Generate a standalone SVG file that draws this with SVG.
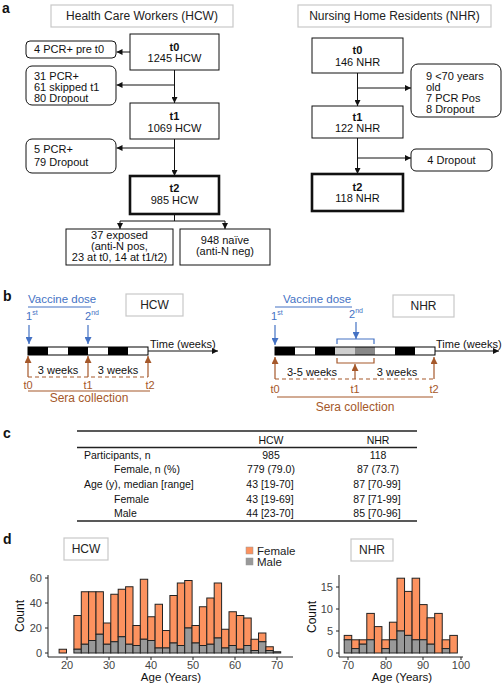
<svg xmlns="http://www.w3.org/2000/svg" width="502" height="685" viewBox="0 0 502 685">
<style>
text{font-family:"Liberation Sans",Arial,sans-serif;fill:#111}
.lbl{font-size:14px;font-weight:bold}
.t{font-size:11px}
.tc{font-size:11px;text-anchor:middle}
.b{font-weight:bold}
.box{fill:#fff;stroke:#111;stroke-width:1}
.thick{fill:#fff;stroke:#111;stroke-width:2.6}
.rbox{fill:#fff;stroke:#111;stroke-width:1}
.tbox{fill:#fff;stroke:#c8c8c8;stroke-width:1.2}
.ttl{font-size:12px;text-anchor:middle;fill:#222}
.ln{stroke:#111;stroke-width:1;fill:none}
.bl{stroke:#4472c4;stroke-width:1.2;fill:none}
.br{stroke:#a5582a;stroke-width:1.2;fill:none}
.fe{fill:#fc925f;stroke:#222;stroke-width:1}
.ma{fill:#999;stroke:#222;stroke-width:1}
.ax{stroke:#222;stroke-width:1;fill:none}
.tk{font-size:11px;fill:#444}
.tbl{font-size:10.5px}
.axt{font-size:11.5px;text-anchor:middle;fill:#111}
</style>
<defs>
<marker id="ah" viewBox="0 0 10 10" refX="10" refY="5" markerWidth="6" markerHeight="6" markerUnits="userSpaceOnUse" orient="auto"><path d="M0,0 L10,5 L0,10 z" fill="#111"/></marker>
<marker id="ahb" viewBox="0 0 10 10" refX="10" refY="5" markerWidth="7" markerHeight="7" markerUnits="userSpaceOnUse" orient="auto"><path d="M0,0 L10,5 L0,10 z" fill="#4472c4"/></marker>
<marker id="ahr" viewBox="0 0 10 10" refX="10" refY="5" markerWidth="7" markerHeight="7" markerUnits="userSpaceOnUse" orient="auto"><path d="M0,0 L10,5 L0,10 z" fill="#a5582a"/></marker>
</defs>

<!-- Panel a -->
<text class="lbl" x="2" y="13">a</text>
<g id="hcw-title"><rect class="tbox" x="51" y="5" width="182" height="22"/><text class="ttl" x="142" y="20">Health Care Workers (HCW)</text></g>
<g id="nhr-title"><rect class="tbox" x="298" y="5" width="193" height="22"/><text class="ttl" x="394.5" y="20">Nursing Home Residents (NHR)</text></g>

<g id="connectors-a">
<line class="ln" x1="130" y1="52" x2="116.5" y2="52" marker-end="url(#ah)"/>
<line class="ln" x1="174.5" y1="70" x2="174.5" y2="103" marker-end="url(#ah)"/>
<line class="ln" x1="174.5" y1="85" x2="116.5" y2="85" marker-end="url(#ah)"/>
<line class="ln" x1="174.5" y1="139" x2="174.5" y2="176" marker-end="url(#ah)"/>
<line class="ln" x1="174.5" y1="148" x2="116.5" y2="148" marker-end="url(#ah)"/>
<polyline class="ln" points="174.5,214 174.5,221"/>
<line class="ln" x1="120" y1="221" x2="225" y2="221"/>
<line class="ln" x1="120" y1="221" x2="120" y2="229" marker-end="url(#ah)"/>
<line class="ln" x1="225" y1="221" x2="225" y2="229" marker-end="url(#ah)"/>
<line class="ln" x1="357.5" y1="73" x2="357.5" y2="106" marker-end="url(#ah)"/>
<line class="ln" x1="357.5" y1="88" x2="411" y2="88" marker-end="url(#ah)"/>
<line class="ln" x1="357.5" y1="138" x2="357.5" y2="174" marker-end="url(#ah)"/>
<line class="ln" x1="357.5" y1="158" x2="411" y2="158" marker-end="url(#ah)"/>
</g>

<g id="hcw-t0"><rect class="box" x="130" y="34" width="89" height="36"/><text class="tc b" x="174.5" y="51">t0</text><text class="tc" x="174.5" y="62">1245 HCW</text></g>
<g id="hcw-pre"><rect class="rbox" x="26" y="41" width="90" height="17" rx="4"/><text class="t" x="34" y="53">4 PCR+ pre t0</text></g>
<g id="hcw-drop1"><rect class="rbox" x="26" y="66" width="90" height="39" rx="6"/><text class="t" x="34" y="80">31 PCR+</text><text class="t" x="34" y="91">61 skipped t1</text><text class="t" x="34" y="102">80 Dropout</text></g>
<g id="hcw-t1"><rect class="box" x="130" y="103" width="89" height="36"/><text class="tc b" x="174.5" y="120">t1</text><text class="tc" x="174.5" y="132">1069 HCW</text></g>
<g id="hcw-drop2"><rect class="rbox" x="26" y="139" width="90" height="34" rx="6"/><text class="t" x="34" y="153">5 PCR+</text><text class="t" x="34" y="166">79 Dropout</text></g>
<g id="hcw-t2"><rect class="thick" x="130" y="176" width="89" height="38"/><text class="tc b" x="174.5" y="192">t2</text><text class="tc" x="174.5" y="204">985 HCW</text></g>
<g id="hcw-exposed"><rect class="box" x="66" y="229" width="107" height="36"/><text class="tc" x="119.5" y="239">37 exposed</text><text class="tc" x="119.5" y="250">(anti-N pos,</text><text class="tc" x="119.5" y="261">23 at t0, 14 at t1/t2)</text></g>
<g id="hcw-naive"><rect class="box" x="180" y="229" width="90" height="36"/><text class="tc" x="225" y="244">948 naïve</text><text class="tc" x="225" y="255">(anti-N neg)</text></g>

<g id="nhr-t0"><rect class="box" x="312" y="38" width="91" height="35"/><text class="tc b" x="357.5" y="54">t0</text><text class="tc" x="357.5" y="66">146 NHR</text></g>
<g id="nhr-drop1"><rect class="rbox" x="411" y="64" width="90" height="53" rx="7"/><text class="t" x="426" y="80">9 &lt;70 years</text><text class="t" x="426" y="91">old</text><text class="t" x="426" y="102">7 PCR Pos</text><text class="t" x="426" y="113">8 Dropout</text></g>
<g id="nhr-t1"><rect class="box" x="312" y="106" width="91" height="32"/><text class="tc b" x="357.5" y="121">t1</text><text class="tc" x="357.5" y="132">122 NHR</text></g>
<g id="nhr-drop2"><rect class="rbox" x="411" y="149" width="81" height="22" rx="5"/><text class="tc" x="451.5" y="164">4 Dropout</text></g>
<g id="nhr-t2"><rect class="thick" x="312" y="174" width="91" height="37"/><text class="tc b" x="357.5" y="191">t2</text><text class="tc" x="357.5" y="202">118 NHR</text></g>

<!-- Panel b -->
<text class="lbl" x="3" y="301">b</text>
<g id="hcw-timeline">
<text x="28" y="303" style="font-size:11.5px;fill:#4472c4">Vaccine dose</text>
<line class="bl" x1="28" y1="307" x2="91" y2="307"/>
<text x="26" y="320" style="font-size:11px;fill:#4472c4">1<tspan dy="-5" style="font-size:7px">st</tspan></text>
<text x="85" y="320" style="font-size:11px;fill:#4472c4">2<tspan dy="-5" style="font-size:7px">nd</tspan></text>
<line class="bl" x1="29" y1="325" x2="29" y2="344" marker-end="url(#ahb)"/>
<line class="bl" x1="88" y1="325" x2="88" y2="344" marker-end="url(#ahb)"/>
<rect x="28" y="347" width="20" height="8" fill="#000"/>
<rect x="48" y="347" width="20" height="8" fill="#fff"/>
<rect x="68" y="347" width="20" height="8" fill="#000"/>
<rect x="88" y="347" width="20" height="8" fill="#fff"/>
<rect x="108" y="347" width="20" height="8" fill="#000"/>
<rect x="128" y="347" width="20" height="8" fill="#fff"/>
<rect x="28" y="347" width="120" height="8" fill="none" stroke="#000" stroke-width="1"/>
<line class="ln" x1="148" y1="351" x2="218" y2="351" marker-end="url(#ah)"/>
<text class="t" x="150" y="348">Time (weeks)</text>
<line class="br" x1="28" y1="377" x2="28" y2="356" marker-end="url(#ahr)"/>
<line class="br" x1="88" y1="377" x2="88" y2="356" marker-end="url(#ahr)"/>
<line class="br" x1="148" y1="377" x2="148" y2="356" marker-end="url(#ahr)"/>
<line class="br" x1="28" y1="377" x2="148" y2="377" stroke-dasharray="4,3"/>
<text class="tc" x="58" y="374">3 weeks</text>
<text class="tc" x="118" y="374">3 weeks</text>
<text x="28" y="389" style="font-size:11px;text-anchor:middle;fill:#a5582a">t0</text>
<text x="88" y="389" style="font-size:11px;text-anchor:middle;fill:#a5582a">t1</text>
<text x="150" y="389" style="font-size:11px;text-anchor:middle;fill:#a5582a">t2</text>
<line class="br" x1="28" y1="391" x2="150" y2="391"/>
<text x="89" y="402" style="font-size:12px;text-anchor:middle;fill:#a5582a">Sera collection</text>
</g>
<g id="hcw-label-b"><rect class="tbox" x="126" y="294" width="57" height="22"/><text class="ttl" x="154.5" y="309">HCW</text></g>

<g id="nhr-timeline">
<text x="283" y="303" style="font-size:11.5px;fill:#4472c4">Vaccine dose</text>
<line class="bl" x1="275" y1="307" x2="352" y2="307"/>
<text x="271" y="320" style="font-size:11px;fill:#4472c4">1<tspan dy="-5" style="font-size:7px">st</tspan></text>
<text x="349" y="318" style="font-size:11px;fill:#4472c4">2<tspan dy="-5" style="font-size:7px">nd</tspan></text>
<line class="bl" x1="275" y1="325" x2="275" y2="345" marker-end="url(#ahb)"/>
<line class="bl" x1="356" y1="322" x2="356" y2="339" marker-end="url(#ahb)"/>
<path class="bl" d="M337,344 V339 H374 V344"/>
<rect x="275" y="347" width="20" height="8" fill="#000"/>
<rect x="295" y="347" width="20" height="8" fill="#fff"/>
<rect x="315" y="347" width="20" height="8" fill="#000"/>
<rect x="335" y="347" width="20" height="8" fill="#cfcfcf"/>
<rect x="355" y="347" width="20" height="8" fill="#888"/>
<rect x="375" y="347" width="20" height="8" fill="#fff"/>
<rect x="395" y="347" width="20" height="8" fill="#000"/>
<rect x="415" y="347" width="20" height="8" fill="#fff"/>
<rect x="275" y="347" width="160" height="8" fill="none" stroke="#000" stroke-width="1"/>
<line class="ln" x1="435" y1="351" x2="499" y2="351" marker-end="url(#ah)"/>
<text class="t" x="436" y="348">Time (weeks)</text>
<path class="br" d="M337,358 V363 H374 V358"/>
<line class="br" x1="275" y1="379" x2="275" y2="357" marker-end="url(#ahr)"/>
<line class="br" x1="355" y1="379" x2="355" y2="364" marker-end="url(#ahr)"/>
<line class="br" x1="434" y1="379" x2="434" y2="357" marker-end="url(#ahr)"/>
<line class="br" x1="275" y1="379" x2="434" y2="379" stroke-dasharray="4,3"/>
<text class="tc" x="312" y="376">3-5 weeks</text>
<text class="tc" x="397" y="376">3 weeks</text>
<text x="275" y="393" style="font-size:11px;text-anchor:middle;fill:#a5582a">t0</text>
<text x="355" y="393" style="font-size:11px;text-anchor:middle;fill:#a5582a">t1</text>
<text x="434" y="393" style="font-size:11px;text-anchor:middle;fill:#a5582a">t2</text>
<line class="br" x1="277" y1="397" x2="433" y2="397"/>
<text x="355" y="411" style="font-size:12px;text-anchor:middle;fill:#a5582a">Sera collection</text>
</g>
<g id="nhr-label-b"><rect class="tbox" x="393" y="295" width="61" height="22"/><text class="ttl" x="423.5" y="310">NHR</text></g>

<!-- Panel c -->
<text class="lbl" x="3" y="438">c</text>
<g id="table">
<line x1="77" y1="431" x2="417" y2="431" stroke="#222" stroke-width="1.5"/>
<text class="tbl" x="271" y="444" text-anchor="middle">HCW</text>
<text class="tbl" x="378" y="444" text-anchor="middle">NHR</text>
<line x1="77" y1="447.5" x2="417" y2="447.5" stroke="#222" stroke-width="1.3"/>
<text class="tbl" x="84" y="459">Participants, n</text>
<text class="tbl" x="271" y="459" text-anchor="middle">985</text>
<text class="tbl" x="378" y="459" text-anchor="middle">118</text>
<text class="tbl" x="114" y="473">Female, n (%)</text>
<text class="tbl" x="271" y="473" text-anchor="middle">779 (79.0)</text>
<text class="tbl" x="378" y="473" text-anchor="middle">87 (73.7)</text>
<text class="tbl" x="84" y="488">Age (y), median [range]</text>
<text class="tbl" x="270" y="488" text-anchor="middle">43 [19-70]</text>
<text class="tbl" x="377" y="488" text-anchor="middle">87 [70-99]</text>
<text class="tbl" x="114" y="503">Female</text>
<text class="tbl" x="270" y="503" text-anchor="middle">43 [19-69]</text>
<text class="tbl" x="377" y="503" text-anchor="middle">87 [71-99]</text>
<text class="tbl" x="114" y="517">Male</text>
<text class="tbl" x="270" y="517" text-anchor="middle">44 [23-70]</text>
<text class="tbl" x="377" y="517" text-anchor="middle">85 [70-96]</text>
<line x1="77" y1="521" x2="417" y2="521" stroke="#222" stroke-width="1.5"/>
</g>

<!-- Panel d -->
<text class="lbl" x="3" y="544">d</text>
<g id="hcw-label-d"><rect class="tbox" x="64" y="538" width="44" height="22"/><text class="ttl" x="86" y="553">HCW</text></g>
<g id="nhr-label-d"><rect class="tbox" x="351" y="539" width="42" height="22"/><text class="ttl" x="372" y="554">NHR</text></g>
<g id="legend">
<rect x="246" y="547" width="7" height="7" fill="#fc925f" stroke="#999" stroke-width="0.5"/>
<rect x="246" y="558" width="7" height="7" fill="#999" stroke="#999" stroke-width="0.5"/>
<text x="257" y="555" style="font-size:11.5px;fill:#222">Female</text>
<text x="257" y="566" style="font-size:11.5px;fill:#222">Male</text>
</g>

<g id="hcw-hist">
<rect class="fe" x="59.1" y="649.25" width="7.4" height="3.75"/>
<rect class="fe" x="73.9" y="615.5" width="7.4" height="33.75"/><rect class="ma" x="73.9" y="649.25" width="7.4" height="3.75"/>
<rect class="fe" x="81.3" y="591.75" width="7.4" height="52.5"/><rect class="ma" x="81.3" y="644.25" width="7.4" height="8.75"/>
<rect class="fe" x="88.6" y="591.75" width="7.4" height="48.75"/><rect class="ma" x="88.6" y="640.5" width="7.4" height="12.5"/>
<rect class="fe" x="96.0" y="591.75" width="7.4" height="42.5"/><rect class="ma" x="96.0" y="634.25" width="7.4" height="18.75"/>
<rect class="fe" x="103.4" y="623" width="7.4" height="21.25"/><rect class="ma" x="103.4" y="644.25" width="7.4" height="8.75"/>
<rect class="fe" x="110.8" y="594.25" width="7.4" height="47.5"/><rect class="ma" x="110.8" y="641.75" width="7.4" height="11.25"/>
<rect class="fe" x="118.2" y="589.25" width="7.4" height="47.5"/><rect class="ma" x="118.2" y="636.75" width="7.4" height="16.25"/>
<rect class="fe" x="125.6" y="586.75" width="7.4" height="57.5"/><rect class="ma" x="125.6" y="644.25" width="7.4" height="8.75"/>
<rect class="fe" x="133.0" y="625.5" width="7.4" height="20"/><rect class="ma" x="133.0" y="645.5" width="7.4" height="7.5"/>
<rect class="fe" x="140.3" y="579.25" width="7.4" height="60"/><rect class="ma" x="140.3" y="639.25" width="7.4" height="13.75"/>
<rect class="fe" x="147.7" y="616.75" width="7.4" height="23.75"/><rect class="ma" x="147.7" y="640.5" width="7.4" height="12.5"/>
<rect class="fe" x="155.1" y="604.25" width="7.4" height="43.75"/><rect class="ma" x="155.1" y="648" width="7.4" height="5"/>
<rect class="fe" x="162.5" y="630.5" width="7.4" height="17.5"/><rect class="ma" x="162.5" y="648" width="7.4" height="5"/>
<rect class="fe" x="169.9" y="595.5" width="7.4" height="47.5"/><rect class="ma" x="169.9" y="643" width="7.4" height="10"/>
<rect class="fe" x="177.3" y="583" width="7.4" height="62.5"/><rect class="ma" x="177.3" y="645.5" width="7.4" height="7.5"/>
<rect class="fe" x="184.7" y="580.5" width="7.4" height="47.5"/><rect class="ma" x="184.7" y="628" width="7.4" height="25"/>
<rect class="fe" x="192.0" y="625.5" width="7.4" height="17.5"/><rect class="ma" x="192.0" y="643" width="7.4" height="10"/>
<rect class="fe" x="199.4" y="606.75" width="7.4" height="38.75"/><rect class="ma" x="199.4" y="645.5" width="7.4" height="7.5"/>
<rect class="fe" x="206.8" y="598" width="7.4" height="46.25"/><rect class="ma" x="206.8" y="644.25" width="7.4" height="8.75"/>
<rect class="fe" x="214.2" y="583" width="7.4" height="55"/><rect class="ma" x="214.2" y="638" width="7.4" height="15"/>
<rect class="fe" x="221.6" y="629.25" width="7.4" height="18.75"/><rect class="ma" x="221.6" y="648" width="7.4" height="5"/>
<rect class="fe" x="229.0" y="611.75" width="7.4" height="33.75"/><rect class="ma" x="229.0" y="645.5" width="7.4" height="7.5"/>
<rect class="fe" x="236.4" y="615.5" width="7.4" height="33.75"/><rect class="ma" x="236.4" y="649.25" width="7.4" height="3.75"/>
<rect class="fe" x="243.8" y="618" width="7.4" height="27.5"/><rect class="ma" x="243.8" y="645.5" width="7.4" height="7.5"/>
<rect class="fe" x="251.1" y="639.25" width="7.4" height="11.25"/><rect class="ma" x="251.1" y="650.5" width="7.4" height="2.5"/>
<rect class="fe" x="258.5" y="633" width="7.4" height="8.75"/><rect class="ma" x="258.5" y="641.75" width="7.4" height="11.25"/>
<rect class="fe" x="265.9" y="646.75" width="7.4" height="3.75"/><rect class="ma" x="265.9" y="650.5" width="7.4" height="2.5"/>
<rect class="ma" x="273.3" y="651.75" width="7.4" height="1.25"/>
<line class="ax" x1="48" y1="575" x2="48" y2="657"/>
<line class="ax" x1="48" y1="657" x2="293" y2="657"/>
<path class="ax" d="M45,653H48M45,628H48M45,603H48M45,578H48M67,657V660M109,657V660M151,657V660M193,657V660M235,657V660M277,657V660"/>
<text class="tk" x="42" y="657" text-anchor="end">0</text>
<text class="tk" x="42" y="632" text-anchor="end">20</text>
<text class="tk" x="42" y="607" text-anchor="end">40</text>
<text class="tk" x="42" y="582" text-anchor="end">60</text>
<text class="tk" x="67" y="669" text-anchor="middle">20</text>
<text class="tk" x="109" y="669" text-anchor="middle">30</text>
<text class="tk" x="151" y="669" text-anchor="middle">40</text>
<text class="tk" x="193" y="669" text-anchor="middle">50</text>
<text class="tk" x="235" y="669" text-anchor="middle">60</text>
<text class="tk" x="277" y="669" text-anchor="middle">70</text>
<text class="axt" x="171" y="681">Age (Years)</text>
<text transform="translate(24,616) rotate(-90)" style="font-size:12px;text-anchor:middle;fill:#111">Count</text>
</g>

<g id="nhr-hist">
<rect class="fe" x="344.2" y="635.4" width="7.54" height="4.4"/><rect class="ma" x="344.2" y="639.8" width="7.54" height="13.2"/>
<rect class="fe" x="351.7" y="639.8" width="7.54" height="8.8"/><rect class="ma" x="351.7" y="648.6" width="7.54" height="4.4"/>
<rect class="fe" x="359.3" y="639.8" width="7.54" height="4.4"/><rect class="ma" x="359.3" y="644.2" width="7.54" height="8.8"/>
<rect class="fe" x="366.8" y="613.4" width="7.54" height="26.4"/><rect class="ma" x="366.8" y="639.8" width="7.54" height="13.2"/>
<rect class="fe" x="374.4" y="626.6" width="7.54" height="26.4"/>
<rect class="fe" x="381.9" y="639.8" width="7.54" height="8.8"/><rect class="ma" x="381.9" y="648.6" width="7.54" height="4.4"/>
<rect class="fe" x="389.4" y="622.2" width="7.54" height="17.6"/><rect class="ma" x="389.4" y="639.8" width="7.54" height="13.2"/>
<rect class="fe" x="397.0" y="578.2" width="7.54" height="52.8"/><rect class="ma" x="397.0" y="631" width="7.54" height="22"/>
<rect class="fe" x="404.5" y="591.4" width="7.54" height="44"/><rect class="ma" x="404.5" y="635.4" width="7.54" height="17.6"/>
<rect class="fe" x="412.1" y="578.2" width="7.54" height="61.6"/><rect class="ma" x="412.1" y="639.8" width="7.54" height="13.2"/>
<rect class="fe" x="419.6" y="604.6" width="7.54" height="35.2"/><rect class="ma" x="419.6" y="639.8" width="7.54" height="13.2"/>
<rect class="fe" x="427.1" y="617.8" width="7.54" height="26.4"/><rect class="ma" x="427.1" y="644.2" width="7.54" height="8.8"/>
<rect class="fe" x="434.7" y="613.4" width="7.54" height="39.6"/>
<rect class="fe" x="442.2" y="639.8" width="7.54" height="8.8"/><rect class="ma" x="442.2" y="648.6" width="7.54" height="4.4"/>
<rect class="fe" x="449.8" y="635.4" width="7.54" height="17.6"/>
<line class="ax" x1="339" y1="575" x2="339" y2="657"/>
<line class="ax" x1="339" y1="657" x2="463" y2="657"/>
<path class="ax" d="M336,653H339M336,631H339M336,609H339M336,587H339M348,657V660M386,657V660M423,657V660M461,657V660"/>
<text class="tk" x="333" y="657" text-anchor="end">0</text>
<text class="tk" x="333" y="635" text-anchor="end">5</text>
<text class="tk" x="333" y="613" text-anchor="end">10</text>
<text class="tk" x="333" y="591" text-anchor="end">15</text>
<text class="tk" x="348" y="669" text-anchor="middle">70</text>
<text class="tk" x="386" y="669" text-anchor="middle">80</text>
<text class="tk" x="423" y="669" text-anchor="middle">90</text>
<text class="tk" x="461" y="669" text-anchor="middle">100</text>
<text class="axt" x="402" y="681">Age (Years)</text>
<text transform="translate(316,617) rotate(-90)" style="font-size:12px;text-anchor:middle;fill:#111">Count</text>
</g>
</svg>
